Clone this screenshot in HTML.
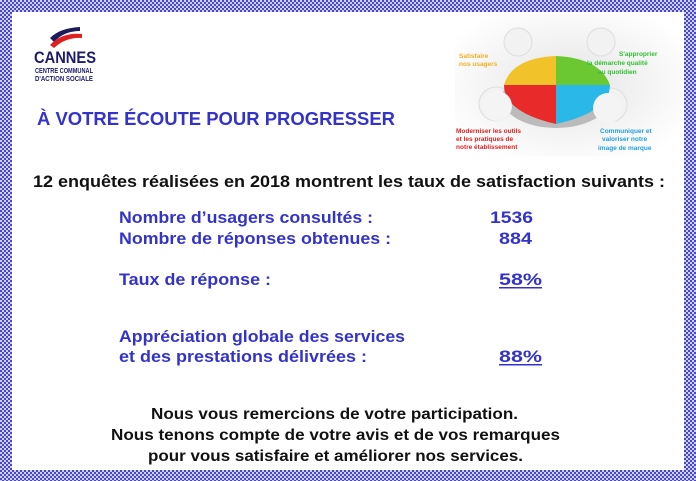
<!DOCTYPE html>
<html><head><meta charset="utf-8"><style>
html,body{margin:0;padding:0;background:#fff;width:696px;height:481px;overflow:hidden}
svg{display:block}
text{font-family:"Liberation Sans",sans-serif;font-weight:bold}
</style></head><body>
<svg width="696" height="481" viewBox="0 0 696 481" xmlns="http://www.w3.org/2000/svg">
<defs>
<pattern id="ck" width="4" height="4" patternUnits="userSpaceOnUse">
<rect width="4" height="4" fill="#4848cc"/>
<rect x="0" y="0" width="2" height="2" fill="#d0d0f4"/>
<rect x="2" y="2" width="2" height="2" fill="#d0d0f4"/>
</pattern>
<radialGradient id="bg" cx="0.5" cy="0.5" r="0.6"><stop offset="0" stop-color="#e4e4e4"/><stop offset="1" stop-color="#fff"/></radialGradient>
</defs>
<rect width="696" height="481" fill="url(#ck)"/>
<rect x="12" y="12" width="672" height="458" fill="#fff"/>

<!-- logo -->
<path d="M50 38 Q60 28 80 27 L80 31 Q64 31 54 42 Z" fill="#1c1c5c"/>
<path d="M50 45 Q62 32 82 34 L82 38 Q66 37 54 48 Z" fill="#e02020"/>
<text x="34" y="63" font-size="17" fill="#1c1c6c" font-weight="normal" textLength="62" lengthAdjust="spacingAndGlyphs">CANNES</text>
<text x="35" y="73" font-size="7" fill="#1c1c6c" font-family="Liberation Serif" font-weight="normal" textLength="58" lengthAdjust="spacingAndGlyphs">CENTRE COMMUNAL</text>
<text x="35" y="81" font-size="7" fill="#1c1c6c" font-family="Liberation Serif" font-weight="normal" textLength="58" lengthAdjust="spacingAndGlyphs">D'ACTION SOCIALE</text>

<!-- image -->
<rect x="455" y="14" width="228" height="142" fill="url(#bg)"/>
<circle cx="518" cy="42" r="14" fill="#f2f2f2" stroke="#ddd"/>
<circle cx="601" cy="42" r="14" fill="#f2f2f2" stroke="#ddd"/>
<circle cx="496" cy="104" r="17" fill="#f2f2f2" stroke="#ddd"/>
<circle cx="610" cy="105" r="17" fill="#f2f2f2" stroke="#ddd"/>
<ellipse cx="556" cy="98" rx="54" ry="30" fill="#bbb"/>
<path d="M556 85 L556 56 Q512 58 504 85 Z" fill="#f2c22a"/>
<path d="M556 85 L556 56 Q600 58 610 85 Z" fill="#6cc832"/>
<path d="M556 85 L504 85 Q504 112 556 124 Z" fill="#e82a2a"/>
<path d="M556 85 L610 85 Q610 112 556 124 Z" fill="#2ab8e8"/>
<circle cx="497" cy="106" r="15" fill="#f4f4f4"/>
<circle cx="608" cy="108" r="15" fill="#f4f4f4"/>
<g font-size="6.5">
<text x="459" y="58" fill="#f0b020">Satisfaire</text>
<text x="459" y="66" fill="#f0b020">nos usagers</text>
<text x="619" y="56" fill="#30c030">S'approprier</text>
<text x="587" y="65" fill="#30c030">la démarche qualité</text>
<text x="598" y="74" fill="#30c030">au quotidien</text>
<text x="456" y="133" fill="#e02020">Moderniser les outils</text>
<text x="456" y="141" fill="#e02020">et les pratiques de</text>
<text x="456" y="149" fill="#e02020">notre établissement</text>
<text x="600" y="133" fill="#20a0e0">Communiquer et</text>
<text x="602" y="141" fill="#20a0e0">valoriser notre</text>
<text x="598" y="150" fill="#20a0e0">image de marque</text>
</g>

<g fill="#3333cc">
<text x="37" y="125" font-size="18" textLength="358" lengthAdjust="spacingAndGlyphs">À VOTRE ÉCOUTE POUR PROGRESSER</text>
<text x="119" y="223" font-size="17" textLength="254" lengthAdjust="spacingAndGlyphs">Nombre d’usagers consultés :</text>
<text x="490" y="223" font-size="17" textLength="43" lengthAdjust="spacingAndGlyphs">1536</text>
<text x="119" y="244" font-size="17" textLength="272" lengthAdjust="spacingAndGlyphs">Nombre de réponses obtenues :</text>
<text x="499" y="244" font-size="17" textLength="33" lengthAdjust="spacingAndGlyphs">884</text>
<text x="119" y="285" font-size="17" textLength="152" lengthAdjust="spacingAndGlyphs">Taux de réponse :</text>
<text x="499" y="285" font-size="17" textLength="43" lengthAdjust="spacingAndGlyphs">58%</text>
<rect x="499" y="287" width="43" height="1.5"/>
<text x="119" y="342" font-size="17" textLength="286" lengthAdjust="spacingAndGlyphs">Appréciation globale des services</text>
<text x="119" y="362" font-size="17" textLength="248" lengthAdjust="spacingAndGlyphs">et des prestations délivrées :</text>
<text x="499" y="362" font-size="17" textLength="43" lengthAdjust="spacingAndGlyphs">88%</text>
<rect x="499" y="364" width="43" height="1.5"/>
</g>
<g fill="#111">
<text x="33" y="187" font-size="17" textLength="632" lengthAdjust="spacingAndGlyphs">12 enquêtes réalisées en 2018 montrent les taux de satisfaction suivants :</text>
<text x="151" y="419" font-size="16" textLength="367" lengthAdjust="spacingAndGlyphs">Nous vous remercions de votre participation.</text>
<text x="111" y="440" font-size="16" textLength="449" lengthAdjust="spacingAndGlyphs">Nous tenons compte de votre avis et de vos remarques</text>
<text x="148" y="461" font-size="16" textLength="375" lengthAdjust="spacingAndGlyphs">pour vous satisfaire et améliorer nos services.</text>
</g>
</svg>
</body></html>
